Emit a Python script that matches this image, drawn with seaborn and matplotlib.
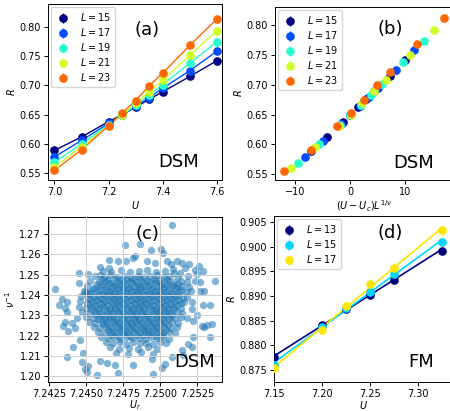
import numpy as np
import pandas as pd
import matplotlib
matplotlib.use("Agg")
import matplotlib.pyplot as plt
import seaborn as sns

# ---------------- data ----------------
# panel (a)/(b): DSM crossing
U_a = [7.0, 7.1, 7.2, 7.25, 7.3, 7.35, 7.4, 7.5, 7.6]
L_a = [15, 17, 19, 21, 23]
R_L15 = [0.589, 0.612, 0.638, 0.650, 0.663, 0.676, 0.689, 0.715, 0.742]
R_L17 = [0.578, 0.606, 0.635, 0.649, 0.664, 0.679, 0.695, 0.725, 0.758]
R_L19 = [0.569, 0.600, 0.633, 0.649, 0.666, 0.683, 0.701, 0.738, 0.774]
R_L21 = [0.561, 0.595, 0.631, 0.650, 0.669, 0.689, 0.709, 0.751, 0.793]
R_L23 = [0.555, 0.590, 0.631, 0.653, 0.674, 0.699, 0.721, 0.768, 0.813]
R_a = [R_L15, R_L17, R_L19, R_L21, R_L23]
err_a = 0.002
Uc = 7.2485
inv_nu = 1.235

# panel (c): bootstrap samples (U_r, 1/nu)
samples_c = [
    (7.25077,1.2744),(7.24761,1.2643),(7.24863,1.2650),(7.24937,1.2621),(7.25004,1.2627),(7.25020,1.2607),
    (7.24827,1.2591),(7.24813,1.2579),(7.24655,1.2571),(7.24716,1.2566),(7.24768,1.2568),(7.24908,1.2568),
    (7.24964,1.2558),(7.25043,1.2568),(7.25070,1.2552),(7.25110,1.2568),(7.25144,1.2558),(7.25194,1.2550),
    (7.25264,1.2544),(7.24592,1.2539),(7.24653,1.2534),(7.24453,1.2508),(7.24514,1.2504),(7.24592,1.2500),
    (7.25167,1.2531),(7.25234,1.2523),(7.25245,1.2504),(7.25291,1.2516),(7.25088,1.2527),(7.25133,1.2508),
    (7.25189,1.2492),(7.25234,1.2468),(7.25268,1.2463),(7.25369,1.2467),(7.24288,1.2429),(7.24318,1.2350),
    (7.24356,1.2337),(7.24367,1.2318),(7.24333,1.2378),(7.24367,1.2366),(7.24453,1.2460),(7.24491,1.2413),
    (7.24507,1.2410),(7.25268,1.2421),(7.25295,1.2421),(7.25291,1.2350),(7.25336,1.2350),(7.25212,1.2363),
    (7.25212,1.2331),(7.25245,1.2303),(7.25178,1.2287),(7.25218,1.2271),(7.25279,1.2247),(7.25313,1.2252),
    (7.24345,1.2247),(7.24378,1.2224),(7.24356,1.2268),(7.24401,1.2263),(7.24423,1.2240),(7.24435,1.2287),
    (7.24367,1.2098),(7.24457,1.2177),(7.24480,1.2117),(7.24468,1.2069),(7.24491,1.2035),(7.24507,1.2022),
    (7.24570,1.2006),(7.24514,1.2049),(7.24592,1.2074),(7.24637,1.2066),(7.24716,1.2019),(7.24694,1.2058),
    (7.24818,1.2058),(7.24941,1.2085),(7.24948,1.2011),(7.25009,1.2042),(7.25032,1.2061),(7.25077,1.2098),
    (7.25144,1.2129),(7.25151,1.2106),(7.25212,1.2145),(7.25189,1.2158),(7.25218,1.2195),(7.25336,1.2195),
    (7.25295,1.2243),(7.25347,1.2258),(7.24412,1.2145),
    (7.24610,1.2518),(7.24668,1.2511),(7.24733,1.2521),(7.24798,1.2510),(7.24856,1.2517),(7.24912,1.2523),
    (7.24972,1.2512),(7.25033,1.2518),(7.25092,1.2509),
    (7.24560,1.2493),(7.24618,1.2486),(7.24662,1.2496),(7.24710,1.2488),(7.24752,1.2493),(7.24801,1.2485),
    (7.24848,1.2495),(7.24887,1.2488),(7.24932,1.2491),(7.24978,1.2496),(7.25024,1.2486),(7.25068,1.2493),
    (7.25118,1.2487),
    (7.24528,1.2468),(7.24583,1.2461),(7.24628,1.2466),(7.24671,1.2460),(7.24713,1.2469),(7.24752,1.2463),
    (7.24796,1.2467),(7.24838,1.2461),(7.24879,1.2469),(7.24921,1.2463),(7.24963,1.2466),(7.25008,1.2460),
    (7.25049,1.2468),(7.25093,1.2462),(7.25138,1.2467),(7.25180,1.2461),
    (7.24502,1.2443),(7.24551,1.2436),(7.24592,1.2442),(7.24633,1.2437),(7.24674,1.2444),(7.24712,1.2438),
    (7.24750,1.2441),(7.24789,1.2436),(7.24827,1.2443),(7.24866,1.2437),(7.24905,1.2442),(7.24944,1.2436),
    (7.24983,1.2444),(7.25022,1.2438),(7.25063,1.2441),(7.25104,1.2437),(7.25150,1.2443),(7.25196,1.2438),
    (7.24482,1.2418),(7.24528,1.2412),(7.24570,1.2417),(7.24611,1.2411),(7.24650,1.2419),(7.24690,1.2413),
    (7.24729,1.2416),(7.24767,1.2411),(7.24806,1.2418),(7.24845,1.2412),(7.24884,1.2417),(7.24923,1.2411),
    (7.24962,1.2419),(7.25001,1.2413),(7.25041,1.2416),(7.25082,1.2411),(7.25126,1.2418),(7.25172,1.2413),
    (7.25205,1.2417),
    (7.24462,1.2393),(7.24508,1.2387),(7.24551,1.2392),(7.24592,1.2386),(7.24632,1.2394),(7.24671,1.2388),
    (7.24710,1.2391),(7.24749,1.2386),(7.24788,1.2393),(7.24827,1.2387),(7.24866,1.2392),(7.24905,1.2386),
    (7.24944,1.2394),(7.24983,1.2388),(7.25023,1.2391),(7.25064,1.2386),(7.25107,1.2393),(7.25151,1.2387),
    (7.25183,1.2392),
    (7.24460,1.2368),(7.24503,1.2362),(7.24545,1.2367),(7.24586,1.2361),(7.24626,1.2369),(7.24665,1.2363),
    (7.24704,1.2366),(7.24743,1.2361),(7.24782,1.2368),(7.24821,1.2362),(7.24860,1.2367),(7.24899,1.2361),
    (7.24938,1.2369),(7.24977,1.2363),(7.25016,1.2366),(7.25057,1.2361),(7.25099,1.2368),(7.25141,1.2362),
    (7.25162,1.2367),
    (7.24450,1.2343),(7.24495,1.2337),(7.24538,1.2342),(7.24579,1.2336),(7.24619,1.2344),(7.24658,1.2338),
    (7.24697,1.2341),(7.24736,1.2336),(7.24775,1.2343),(7.24814,1.2337),(7.24853,1.2342),(7.24892,1.2336),
    (7.24931,1.2344),(7.24970,1.2338),(7.25009,1.2341),(7.25050,1.2336),(7.25093,1.2343),(7.25138,1.2337),
    (7.24470,1.2318),(7.24515,1.2312),(7.24557,1.2317),(7.24598,1.2311),(7.24638,1.2319),(7.24677,1.2313),
    (7.24716,1.2316),(7.24755,1.2311),(7.24794,1.2318),(7.24833,1.2312),(7.24872,1.2317),(7.24911,1.2311),
    (7.24950,1.2319),(7.24989,1.2313),(7.25029,1.2316),(7.25070,1.2311),(7.25112,1.2318),(7.25150,1.2312),
    (7.24500,1.2293),(7.24543,1.2287),(7.24584,1.2292),(7.24624,1.2286),(7.24663,1.2294),(7.24702,1.2288),
    (7.24741,1.2291),(7.24780,1.2286),(7.24819,1.2293),(7.24858,1.2287),(7.24897,1.2292),(7.24936,1.2286),
    (7.24975,1.2294),(7.25014,1.2288),(7.25055,1.2291),(7.25097,1.2286),(7.25138,1.2293),
    (7.24520,1.2268),(7.24562,1.2262),(7.24603,1.2267),(7.24643,1.2261),(7.24682,1.2269),(7.24721,1.2263),
    (7.24760,1.2266),(7.24799,1.2261),(7.24838,1.2268),(7.24877,1.2262),(7.24916,1.2267),(7.24955,1.2261),
    (7.24994,1.2269),(7.25034,1.2263),(7.25076,1.2266),(7.25118,1.2261),
    (7.24552,1.2243),(7.24594,1.2237),(7.24635,1.2242),(7.24675,1.2236),(7.24714,1.2244),(7.24753,1.2238),
    (7.24792,1.2241),(7.24831,1.2236),(7.24870,1.2243),(7.24909,1.2237),(7.24948,1.2242),(7.24987,1.2236),
    (7.25027,1.2244),(7.25069,1.2238),(7.25112,1.2241),
    (7.24580,1.2218),(7.24623,1.2212),(7.24664,1.2217),(7.24704,1.2211),(7.24743,1.2219),(7.24782,1.2213),
    (7.24821,1.2216),(7.24860,1.2211),(7.24899,1.2218),(7.24938,1.2212),(7.24977,1.2217),(7.25017,1.2211),
    (7.25058,1.2219),(7.25098,1.2213),
    (7.24600,1.2193),(7.24645,1.2187),(7.24688,1.2192),(7.24730,1.2186),(7.24771,1.2194),(7.24812,1.2188),
    (7.24853,1.2191),(7.24894,1.2186),(7.24935,1.2193),(7.24976,1.2187),(7.25017,1.2192),(7.25058,1.2186),
    (7.24632,1.2168),(7.24680,1.2162),(7.24726,1.2167),(7.24771,1.2161),(7.24815,1.2169),(7.24860,1.2163),
    (7.24905,1.2166),(7.24950,1.2161),(7.24995,1.2168),(7.25040,1.2162),
    (7.24660,1.2143),(7.24722,1.2136),(7.24790,1.2142),(7.24850,1.2135),(7.24915,1.2143),(7.24975,1.2137),
    (7.24700,1.2117),(7.24785,1.2110),(7.24870,1.2118),(7.24948,1.2112),
    (7.24605,1.2480),(7.24648,1.2475),(7.24692,1.2481),(7.24735,1.2474),(7.24776,1.2479),(7.24824,1.2476),
    (7.24866,1.2482),(7.24910,1.2475),(7.24955,1.2479),(7.24998,1.2474),(7.25046,1.2480),
    (7.24572,1.2455),(7.24612,1.2450),(7.24655,1.2456),(7.24694,1.2449),(7.24731,1.2454),(7.24770,1.2451),
    (7.24808,1.2457),(7.24847,1.2450),(7.24886,1.2454),(7.24925,1.2449),(7.24964,1.2456),(7.25004,1.2451),
    (7.25045,1.2455),(7.25085,1.2450),(7.25122,1.2454),
    (7.24548,1.2430),(7.24590,1.2425),(7.24631,1.2431),(7.24670,1.2424),(7.24709,1.2429),(7.24748,1.2426),
    (7.24787,1.2432),(7.24826,1.2425),(7.24865,1.2429),(7.24904,1.2424),(7.24943,1.2431),(7.24982,1.2426),
    (7.25021,1.2430),(7.25062,1.2425),(7.25104,1.2429),(7.25148,1.2425),
    (7.24528,1.2405),(7.24571,1.2400),(7.24612,1.2406),(7.24651,1.2399),(7.24690,1.2404),(7.24729,1.2401),
    (7.24768,1.2407),(7.24807,1.2400),(7.24846,1.2404),(7.24885,1.2399),(7.24924,1.2406),(7.24963,1.2401),
    (7.25002,1.2405),(7.25043,1.2400),(7.25086,1.2404),(7.25129,1.2400),
    (7.24525,1.2380),(7.24566,1.2375),(7.24607,1.2381),(7.24646,1.2374),(7.24685,1.2379),(7.24724,1.2376),
    (7.24763,1.2382),(7.24802,1.2375),(7.24841,1.2379),(7.24880,1.2374),(7.24919,1.2381),(7.24958,1.2376),
    (7.24997,1.2380),(7.25037,1.2375),(7.25078,1.2379),(7.25120,1.2375),
    (7.24517,1.2355),(7.24558,1.2350),(7.24599,1.2356),(7.24638,1.2349),(7.24677,1.2354),(7.24716,1.2351),
    (7.24755,1.2357),(7.24794,1.2350),(7.24833,1.2354),(7.24872,1.2349),(7.24911,1.2356),(7.24950,1.2351),
    (7.24989,1.2355),(7.25029,1.2350),(7.25071,1.2354),(7.25115,1.2350),
    (7.24530,1.2330),(7.24577,1.2325),(7.24618,1.2331),(7.24657,1.2324),(7.24696,1.2329),(7.24735,1.2326),
    (7.24774,1.2332),(7.24813,1.2325),(7.24852,1.2329),(7.24891,1.2324),(7.24930,1.2331),(7.24969,1.2326),
    (7.25008,1.2330),(7.25049,1.2325),(7.25090,1.2329),
    (7.24562,1.2305),(7.24604,1.2300),(7.24644,1.2306),(7.24683,1.2299),(7.24722,1.2304),(7.24761,1.2301),
    (7.24800,1.2307),(7.24839,1.2300),(7.24878,1.2304),(7.24917,1.2299),(7.24956,1.2306),(7.24995,1.2301),
    (7.25035,1.2305),(7.25076,1.2300),
    (7.24582,1.2280),(7.24623,1.2275),(7.24663,1.2281),(7.24702,1.2274),(7.24741,1.2279),(7.24780,1.2276),
    (7.24819,1.2282),(7.24858,1.2275),(7.24897,1.2279),(7.24936,1.2274),(7.24975,1.2281),(7.25015,1.2276),
    (7.25056,1.2280),
    (7.24614,1.2255),(7.24655,1.2250),(7.24695,1.2256),(7.24734,1.2249),(7.24773,1.2254),(7.24812,1.2251),
    (7.24851,1.2257),(7.24890,1.2250),(7.24929,1.2254),(7.24968,1.2249),(7.25008,1.2256),(7.25049,1.2251),
    (7.24645,1.2230),(7.24686,1.2225),(7.24725,1.2231),(7.24764,1.2224),(7.24803,1.2229),(7.24842,1.2226),
    (7.24881,1.2232),(7.24920,1.2225),(7.24960,1.2229),(7.25000,1.2224),(7.25040,1.2230),
    (7.24668,1.2205),(7.24712,1.2200),(7.24755,1.2206),(7.24798,1.2199),(7.24841,1.2204),(7.24884,1.2201),
    (7.24927,1.2207),(7.24970,1.2200),(7.25012,1.2204),
]

# panel (d): FM crossing
U_d = [7.15, 7.20, 7.225, 7.25, 7.275, 7.325]
L_d = [13, 15, 17]
R_d13 = [0.8776, 0.8841, 0.8873, 0.8903, 0.8933, 0.8992]
R_d15 = [0.8761, 0.8838, 0.8875, 0.8908, 0.8944, 0.9009]
R_d17 = [0.8754, 0.8832, 0.8880, 0.8924, 0.8957, 0.9033]
err_d13 = [0.0003, 0.0003, 0.0003, 0.0004, 0.0004, 0.0004]
err_d15 = [0.0004, 0.0004, 0.0004, 0.0005, 0.0005, 0.0005]
err_d17 = [0.0008, 0.0008, 0.0008, 0.0009, 0.0009, 0.0009]
R_d = [R_d13, R_d15, R_d17]
err_d = [err_d13, err_d15, err_d17]

# ---------------- style ----------------
plt.rcParams.update({
    "font.family": ["DejaVu Sans"],
    "font.size": 7.0,
    "axes.linewidth": 0.7,
    "xtick.major.size": 2.8,
    "ytick.major.size": 2.8,
    "xtick.major.width": 0.7,
    "ytick.major.width": 0.7,
    "xtick.major.pad": 2.0,
    "ytick.major.pad": 2.2,
    "axes.labelpad": 1.5,
    "legend.fontsize": 7.0,
})

jet = plt.get_cmap("jet")
cols_a = [jet(i / 5) for i in range(5)]
cols_d = [jet(i / 3) for i in range(3)]

fig = plt.figure(figsize=(4.5, 4.11), dpi=100)
ax_a = fig.add_axes([48 / 450, 1 - 180 / 411, 174 / 450, 176 / 411])
ax_b = fig.add_axes([275 / 450, 1 - 180 / 411, 178 / 450, 173 / 411])
ax_c = fig.add_axes([48 / 450, 1 - 382 / 411, 174 / 450, 165 / 411])
ax_d = fig.add_axes([274 / 450, 1 - 382 / 411, 179 / 450, 166 / 411])

big = 13
leg_kw = dict(loc="upper left", handletextpad=0.9, borderaxespad=0.35,
              labelspacing=0.3, handlelength=1.6, borderpad=0.4)

# ---- (a) ----
for L, R, c in zip(L_a, R_a, cols_a):
    ax_a.plot(U_a, R, "-", color=c, lw=1.0, zorder=2)
    ax_a.errorbar(U_a, R, yerr=err_a, fmt="o", color=c, ms=5.2, lw=1.0,
                  label=rf"$L = {L}$", zorder=3)
ax_a.set_xlim(6.976, 7.619)
ax_a.set_ylim(0.5385, 0.8386)
ax_a.set_xticks([7.0, 7.2, 7.4, 7.6])
ax_a.set_yticks([0.55, 0.60, 0.65, 0.70, 0.75, 0.80])
ax_a.set_xlabel(r"$U$")
ax_a.set_ylabel(r"$R$")
ax_a.legend(**leg_kw)
ax_a.text(0.57, 0.85, "(a)", transform=ax_a.transAxes, fontsize=big,
          ha="center", va="center")
ax_a.text(0.75, 0.10, "DSM", transform=ax_a.transAxes, fontsize=big,
          ha="center", va="center")

# ---- (b) ----
for L, R, c in zip(L_a, R_a, cols_a):
    x = (np.asarray(U_a) - Uc) * L ** inv_nu
    ax_b.errorbar(x, R, yerr=err_a, fmt="o", color=c, ms=5.2, lw=1.0,
                  label=rf"$L = {L}$")
ax_b.set_xlim(-13.6, 18.6)
ax_b.set_ylim(0.540, 0.831)
ax_b.set_xticks([-10, 0, 10])
ax_b.set_yticks([0.55, 0.60, 0.65, 0.70, 0.75, 0.80])
ax_b.set_xlabel(r"$(U-U_c)L^{1/\nu}$")
ax_b.set_ylabel(r"$R$")
ax_b.legend(**leg_kw)
ax_b.text(0.65, 0.87, "(b)", transform=ax_b.transAxes, fontsize=big,
          ha="center", va="center")
ax_b.text(0.78, 0.10, "DSM", transform=ax_b.transAxes, fontsize=big,
          ha="center", va="center")

# ---- (c) ----
df_c = pd.DataFrame(samples_c, columns=["Ur", "nu_inv"])
ax_c.grid(True, color="#cfcfcf", lw=0.7)
ax_c.set_axisbelow(False)
sns.scatterplot(data=df_c, x="Ur", y="nu_inv", ax=ax_c, s=28, alpha=0.55,
                color="#1f77b4", linewidth=0, zorder=1)
ax_c.set_xlim(7.24241, 7.25417)
ax_c.set_ylim(1.1973, 1.2782)
ax_c.set_xticks([7.2425, 7.2450, 7.2475, 7.2500, 7.2525])
ax_c.set_xticklabels(["7.2425", "7.2450", "7.2475", "7.2500", "7.2525"])
ax_c.set_yticks([1.20, 1.21, 1.22, 1.23, 1.24, 1.25, 1.26, 1.27])
ax_c.set_xlabel(r"$U_r$", labelpad=0.0)
ax_c.set_ylabel(r"$\nu^{-1}$")
ax_c.text(0.57, 0.90, "(c)", transform=ax_c.transAxes, fontsize=big,
          ha="center", va="center")
ax_c.text(0.84, 0.12, "DSM", transform=ax_c.transAxes, fontsize=big,
          ha="center", va="center")

# ---- (d) ----
for L, R, e, c in zip(L_d, R_d, err_d, cols_d):
    k, b = np.polyfit(U_d, R, 1)
    xs = np.array([U_d[0], U_d[-1]])
    ax_d.plot(xs, k * xs + b, "-", color=c, lw=1.2, zorder=2)
    ax_d.errorbar(U_d, R, yerr=e, fmt="o", color=c, ms=5.2, lw=1.0,
                  label=rf"$L = {L}$", zorder=3)
ax_d.set_xlim(7.15, 7.337)
ax_d.set_ylim(0.8726, 0.9062)
ax_d.set_xticks([7.15, 7.20, 7.25, 7.30])
ax_d.set_xticklabels(["7.15", "7.20", "7.25", "7.30"])
ax_d.set_yticks([0.875, 0.880, 0.885, 0.890, 0.895, 0.900, 0.905])
ax_d.set_xlabel(r"$U$", labelpad=0.0)
ax_d.set_ylabel(r"$R$")
ax_d.legend(**leg_kw)
ax_d.text(0.65, 0.90, "(d)", transform=ax_d.transAxes, fontsize=big,
          ha="center", va="center")
ax_d.text(0.82, 0.12, "FM", transform=ax_d.transAxes, fontsize=big,
          ha="center", va="center")

fig.savefig("out.png", dpi=100)
